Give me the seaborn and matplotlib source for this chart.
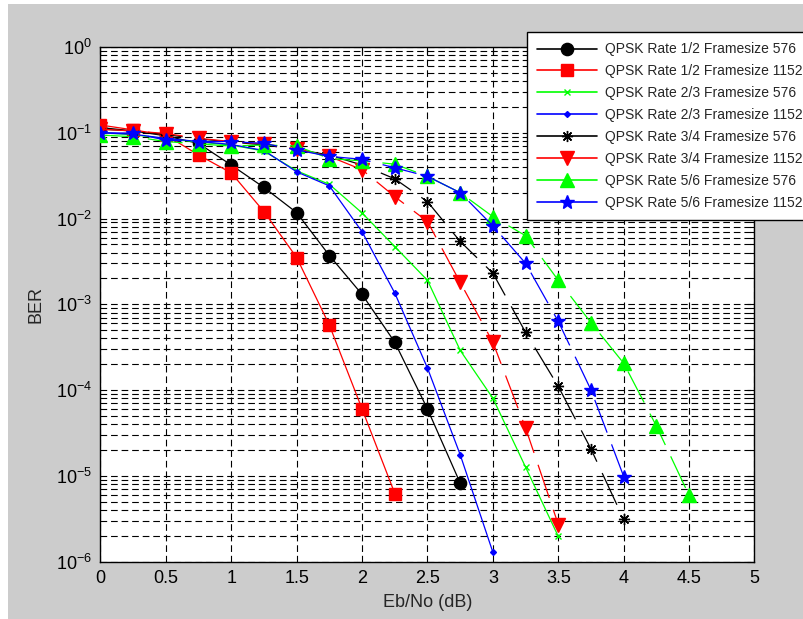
import numpy as np
import pandas as pd
import seaborn as sns
import matplotlib
matplotlib.use("Agg")
import matplotlib.pyplot as plt
from matplotlib.lines import Line2D
from matplotlib.patches import Rectangle
from matplotlib.ticker import FixedLocator, FuncFormatter, NullFormatter

# Eb/No grid (dB), step 0.25
step = 0.25

# BER per coding scheme, starting at 0 dB
ber_r12_576 = [0.115, 0.105, 0.092, 0.075, 0.042, 0.023, 0.0117, 0.0037,
               0.0013, 3.6e-4, 6.0e-5, 8.2e-6]
ber_r12_1152 = [0.123, 0.108, 0.094, 0.055, 0.034, 0.012, 0.0035, 5.7e-4,
                6.0e-5, 6.2e-6]
ber_r23_576 = [0.100, 0.095, 0.085, 0.078, 0.072, 0.061, 0.036, 0.025,
               0.0116, 0.0047, 0.0019, 2.9e-4, 8.0e-5, 1.26e-5, 1.96e-6]
ber_r23_1152 = [0.100, 0.096, 0.086, 0.079, 0.073, 0.062, 0.035, 0.024,
                0.0070, 0.00135, 1.8e-4, 1.76e-5, 1.28e-6]
ber_r34_576 = [0.110, 0.105, 0.095, 0.085, 0.078, 0.072, 0.064, 0.055,
               0.042, 0.029, 0.0157, 0.0054, 0.0023, 4.7e-4, 1.1e-4,
               2.05e-5, 3.1e-6]
ber_r34_1152 = [0.110, 0.105, 0.098, 0.086, 0.079, 0.074, 0.065, 0.053,
                0.037, 0.018, 0.0092, 0.0018, 3.6e-4, 3.6e-5, 2.7e-6]
ber_r56_576 = [0.094, 0.090, 0.079, 0.074, 0.070, 0.072, 0.070, 0.050,
               0.047, 0.043, 0.031, 0.020, 0.0105, 0.0063, 0.0019, 6.1e-4,
               2.05e-4, 3.8e-5, 5.9e-6]
ber_r56_1152 = [0.100, 0.099, 0.082, 0.079, 0.079, 0.075, 0.063, 0.053,
                0.049, 0.039, 0.031, 0.020, 0.0082, 0.0030, 6.3e-4, 1.0e-4,
                9.8e-6]

labels = ["QPSK Rate 1/2 Framesize 576", "QPSK Rate 1/2 Framesize 1152",
          "QPSK Rate 2/3 Framesize 576", "QPSK Rate 2/3 Framesize 1152",
          "QPSK Rate 3/4 Framesize 576", "QPSK Rate 3/4 Framesize 1152",
          "QPSK Rate 5/6 Framesize 576", "QPSK Rate 5/6 Framesize 1152"]
series = [ber_r12_576, ber_r12_1152, ber_r23_576, ber_r23_1152,
          ber_r34_576, ber_r34_1152, ber_r56_576, ber_r56_1152]

x_ticks = [0, 0.5, 1, 1.5, 2, 2.5, 3, 3.5, 4, 4.5, 5]
x_tick_labels = ["0", "0.5", "1", "1.5", "2", "2.5", "3", "3.5", "4", "4.5", "5"]
y_decades = [-6, -5, -4, -3, -2, -1, 0]

frames = []
for lab, ber in zip(labels, series):
    frames.append(pd.DataFrame({"EbNo": np.arange(len(ber)) * step,
                                "BER": ber, "scheme": lab}))
df = pd.concat(frames, ignore_index=True)

# styling per scheme
dash = (0, (28, 10))
styles = {
    labels[0]: dict(color="black", marker="o", ms=8.8, ls="-"),
    labels[1]: dict(color="red", marker="s", ms=8.8, ls="-"),
    labels[2]: dict(color="#00ff00", marker="x", ms=4.5, ls="-"),
    labels[3]: dict(color="blue", marker="D", ms=3, ls="-"),
    labels[4]: dict(color="black", marker=(8, 2, 0), ms=8, ls=dash),
    labels[5]: dict(color="red", marker="v", ms=10.5, ls=dash),
    labels[6]: dict(color="#00ff00", marker="^", ms=10.5, ls=dash),
    labels[7]: dict(color="blue", marker="*", ms=10.5, ls=dash),
}

sns.set_style("white")
plt.rcParams["font.family"] = ["Liberation Sans", "DejaVu Sans"]
plt.rcParams["mathtext.fontset"] = "custom"
plt.rcParams["mathtext.rm"] = "Liberation Sans"
plt.rcParams["mathtext.it"] = "Liberation Sans"
plt.rcParams["mathtext.default"] = "regular"

fig = plt.figure(figsize=(8.04, 6.19), dpi=100)
fig.patch.set_facecolor("#cccccc")
# thin white border on the left and top
fig.patches.append(Rectangle((0, 0), 8 / 804, 1, transform=fig.transFigure,
                             facecolor="white", edgecolor="none", zorder=0))
fig.patches.append(Rectangle((0, 1 - 4 / 619), 1, 4 / 619,
                             transform=fig.transFigure, facecolor="white",
                             edgecolor="none", zorder=0))

ax = fig.add_axes([100.5 / 804, 1 - 561.5 / 619, 654 / 804, 514.5 / 619])
ax.set_facecolor("white")
ax.set_yscale("log")

for lab in labels:
    st = styles[lab]
    sub = df[df["scheme"] == lab]
    sns.lineplot(data=sub, x="EbNo", y="BER", ax=ax, color=st["color"],
                 marker=st["marker"], markersize=st["ms"],
                 markeredgecolor=st["color"], markerfacecolor=st["color"],
                 markeredgewidth=1.0, linestyle=st["ls"], linewidth=0.9,
                 legend=False, errorbar=None, sort=False, zorder=3)

ax.set_xlim(0, 5)
ax.set_ylim(1e-6, 1)
ax.xaxis.set_major_locator(FixedLocator(x_ticks))
ax.set_xticklabels(x_tick_labels)
ax.yaxis.set_major_locator(FixedLocator([10.0 ** d for d in y_decades]))
ax.yaxis.set_major_formatter(
    FuncFormatter(lambda v, p: r"$10^{%d}$" % int(round(np.log10(v)))))
minor = [m * 10.0 ** d for d in y_decades[:-1] for m in range(2, 10)]
ax.yaxis.set_minor_locator(FixedLocator(minor))
ax.yaxis.set_minor_formatter(NullFormatter())

grid_kw = dict(color="black", linewidth=0.8, linestyle=(0, (6, 3.5)))
ax.grid(True, which="major", axis="both", **grid_kw)
ax.grid(True, which="minor", axis="y", **grid_kw)
ax.set_axisbelow(True)

ax.tick_params(which="both", direction="in", top=True, right=True,
               labelsize=13, colors="black", pad=6)
ax.tick_params(which="major", length=5, width=0.8)
ax.tick_params(which="minor", length=3, width=0.8)
for sp in ax.spines.values():
    sp.set_color("black")
    sp.set_linewidth(1.0)

ax.set_xlabel("Eb/No (dB)", fontsize=13, labelpad=5)
ax.set_ylabel("BER", fontsize=13, labelpad=8)

handles = []
for lab in labels:
    st = styles[lab]
    handles.append(Line2D([], [], color=st["color"], marker=st["marker"],
                          markersize=st["ms"],
                          markerfacecolor=st["color"],
                          markeredgecolor=st["color"], linewidth=1.2,
                          linestyle="-"))
leg = fig.legend(handles, labels, loc="upper left",
                 bbox_to_anchor=(527 / 804, 1 - 32 / 619),
                 bbox_transform=fig.transFigure, fontsize=10,
                 frameon=True, fancybox=False, shadow=False,
                 handlelength=4.3, handletextpad=0.6, labelspacing=0.57,
                 borderpad=0.75, borderaxespad=0)
leg.get_frame().set_edgecolor("black")
leg.get_frame().set_linewidth(1.0)
leg.get_frame().set_facecolor("white")
leg.get_frame().set_alpha(1)

fig.savefig("out.png", dpi=100, facecolor=fig.get_facecolor())
